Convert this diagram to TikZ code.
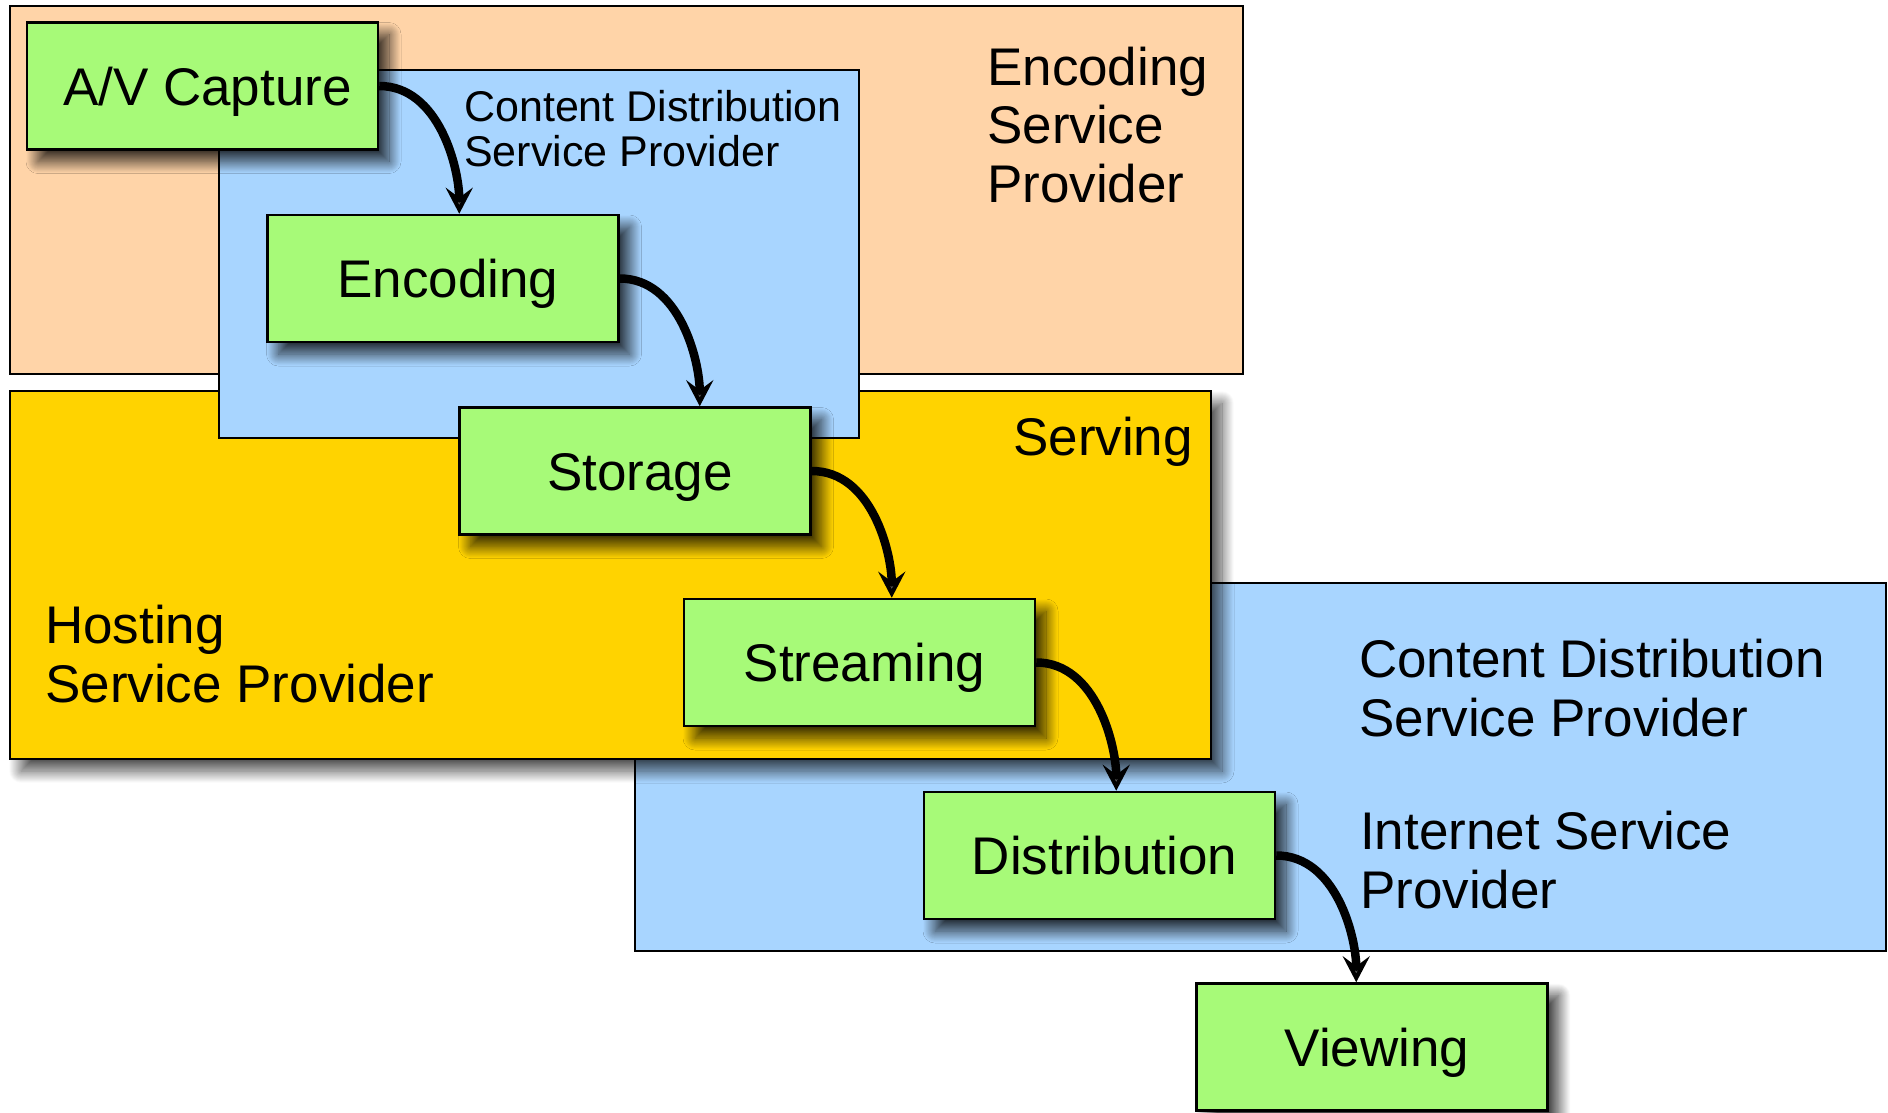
\documentclass[tikz,border=0pt]{standalone}
\usepackage{fontspec}
\setmainfont{Liberation Sans}
\usetikzlibrary{arrows.meta,shadows.blur}
\definecolor{peach}{HTML}{FFD4A8}
\definecolor{skyb}{HTML}{A8D5FF}
\definecolor{gold}{HTML}{FFD300}
\definecolor{lgreen}{HTML}{A7FA78}
\newcommand\biglab{\fontsize{53}{58.5}\selectfont}
\newcommand\smlab{\fontsize{43}{45}\selectfont}
\begin{document}
\begin{tikzpicture}[x=1pt,y=-1pt,
  region/.style={draw=black,line width=2.5pt},
  softshadow/.style={blur shadow={shadow xshift=11pt,shadow yshift=-12pt,shadow blur radius=12pt,shadow blur steps=24,shadow opacity=80}},
  proc/.style={draw=black,line width=2.5pt,fill=lgreen,minimum width=351pt,minimum height=127pt,
    inner sep=0pt,text height=38pt,text depth=0pt,font=\biglab,softshadow,
    execute at begin node={\hspace*{10pt}}},
  lab/.style={anchor=base west,inner sep=0pt,align=left,font=\biglab},
  flow/.style={line width=8.5pt,-{Stealth[length=26pt,width=27pt,inset=10pt]}}
]
\useasboundingbox (0,0) rectangle (1888,1112);
% regions
\draw[region,fill=peach] (10,6) rectangle (1243,374);
\draw[region,fill=skyb] (635,583) rectangle (1886,951);
\draw[region,fill=gold,blur shadow={shadow xshift=11pt,shadow yshift=-12pt,shadow blur radius=12pt,shadow blur steps=24,shadow opacity=70}] (10,391) rectangle (1211,759);
\draw[region,fill=skyb] (219,70) rectangle (859,438);
% region labels (anchor at the baseline of the last line)
\node[lab] (esp) at (987,202) {Encoding\\Service\\Provider};
\node[lab,font=\smlab] (cdsp1) at (464,166) {Content Distribution\\Service Provider};
\node[lab] (serv) at (1013,455) {Serving};
\node[lab] (hsp) at (45,702) {Hosting\\Service Provider};
\node[lab] (cdsp2) at (1359,736) {Content Distribution\\Service Provider};
\node[lab] (isp) at (1360,908) {Internet Service\\Provider};
% process boxes
\node[proc] (av) at (202.5,86) {A/V Capture};
\node[proc] (enc) at (443,278.5) {Encoding};
\node[proc] (sto) at (635,471) {Storage};
\node[proc] (str) at (859.5,662.5) {Streaming};
\node[proc] (dis) at (1099.5,855.5) {Distribution};
\node[proc] (view) at (1372,1047) {Viewing};
% connectors
\coordinate (c1) at ([xshift=80pt]av.east);
\coordinate (c2) at ([xshift=80pt]enc.east);
\coordinate (c3) at ([xshift=80pt]sto.east);
\coordinate (c4) at ([xshift=80pt]str.east);
\coordinate (c5) at ([xshift=80pt]dis.east);
\draw[flow] (av.east) .. controls +(60,0) and +(0,-45) .. (c1 |- enc.north);
\draw[flow] (enc.east) .. controls +(60,0) and +(0,-45) .. (c2 |- sto.north);
\draw[flow] (sto.east) .. controls +(60,0) and +(0,-45) .. (c3 |- str.north);
\draw[flow] (str.east) .. controls +(60,0) and +(0,-45) .. (c4 |- dis.north);
\draw[flow] (dis.east) .. controls +(60,0) and +(0,-45) .. (c5 |- view.north);
\end{tikzpicture}
\end{document}
